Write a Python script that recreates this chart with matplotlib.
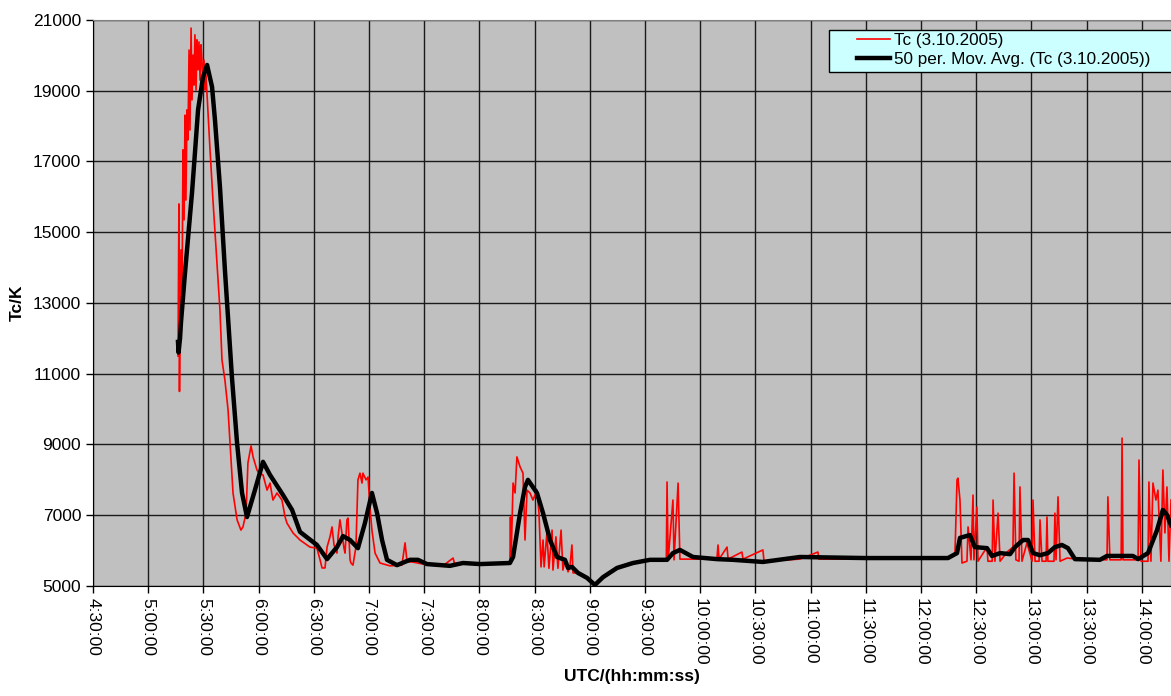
import matplotlib
matplotlib.use("Agg")
import matplotlib.pyplot as plt
from matplotlib.patches import Rectangle

plt.rcParams['font.family'] = ['Liberation Sans', 'DejaVu Sans']

# times in minutes after midnight (UTC), values in K
tc_time = [
    316.2, 316.7, 317.0, 317.3, 317.8, 318.4, 318.9, 319.5, 320.0, 320.5,
    321.1, 321.6, 322.2, 322.7, 323.3, 323.8, 324.4, 324.9, 325.4, 326.0,
    326.5, 327.1, 327.6, 328.2, 328.7, 329.2, 329.8, 330.3, 330.9, 331.4,
    332.0, 333.6, 335.2, 336.9, 339.0, 340.1, 341.7, 343.4, 344.5, 346.1,
    348.3, 350.4, 351.5, 353.2, 354.2, 355.9, 357.0, 359.1, 360.2, 362.4,
    364.6, 366.2, 367.8, 370.0, 372.7, 374.4, 375.4, 378.7, 382.5, 387.9,
    391.7, 393.4, 394.5, 396.1, 397.2, 398.8, 399.9, 401.0, 402.6, 403.2,
    404.2, 405.3, 406.4, 407.0, 408.0, 408.6, 409.7, 410.2, 411.3, 412.9,
    414.0, 415.1, 416.2, 416.7, 418.4, 419.5, 420.5, 421.6, 423.3, 426.0,
    431.4, 437.9, 439.6, 440.7, 443.4, 449.4, 460.2, 465.7, 466.7, 474.9,
    496.6, 496.9, 497.2, 498.3, 499.4, 500.4, 502.1, 503.7, 504.8, 505.9,
    507.5, 509.1, 511.3, 512.4, 513.5, 514.6, 515.2, 516.7, 517.8, 519.5,
    520.0, 521.6, 522.7, 524.4, 525.4, 526.5, 528.2, 529.2, 530.3, 530.9,
    533.6, 538.5, 542.8, 547.2, 554.8, 563.5, 572.7, 581.6, 582.0, 582.6,
    585.2, 585.8, 588.0, 589.0, 596.1, 609.1, 609.7, 610.3, 614.6, 615.2,
    622.7, 623.3, 634.1, 634.7, 654.2, 664.0, 664.5, 690.0, 734.7, 738.5,
    739.6, 740.1, 741.2, 742.3, 745.0, 745.6, 747.2, 748.3, 748.8, 750.4,
    751.0, 755.9, 756.4, 758.7, 759.2, 760.2, 761.9, 763.0, 766.8, 770.0,
    770.6, 771.6, 773.3, 773.8, 774.9, 777.6, 780.4, 780.9, 782.0, 784.2,
    784.7, 785.8, 788.0, 788.5, 789.0, 792.3, 792.8, 793.4, 794.5, 795.6,
    799.4, 804.8, 821.1, 821.6, 822.7, 828.8, 829.3, 829.8, 838.0, 838.5,
    839.6, 843.4, 843.9, 845.0, 846.1, 847.7, 848.8, 850.4, 851.5, 852.6,
    853.7, 854.8, 855.9,
]
tc_value = [
    11500, 15800, 10500, 12500, 14500, 13100, 17330, 15350, 18310, 15910,
    18460, 17610, 20150, 17890, 20770, 18740, 20010, 19160, 20580, 19020,
    20440, 19590, 20380, 19300, 20300, 19870, 19160, 19870, 19020, 19450,
    18880, 17330, 15910, 14500, 12800, 11390, 10820, 9980, 9040, 7630,
    6870, 6580, 6670, 7060, 8480, 8960, 8650, 8280, 8190, 8140,
    7710, 7910, 7430, 7630, 7430, 6950, 6780, 6500, 6300, 6100,
    6070, 5740, 5510, 5510, 6100, 6390, 6670, 6160, 5930, 6390,
    6870, 6500, 6070, 5930, 6870, 6920, 5740, 5650, 5590, 6100,
    8000, 8190, 7910, 8190, 8000, 8080, 7230, 6580, 5930, 5650,
    5570, 5590, 6220, 5680, 5680, 5620, 5570, 5790, 5590, 5650,
    5650, 6950, 5650, 7910, 7630, 8650, 8370, 8190, 6300, 7710,
    7630, 7430, 7710, 7060, 5540, 6300, 5540, 6500, 5500, 6580,
    5450, 6390, 5500, 6580, 5450, 5740, 5400, 5540, 6160, 5370,
    5370, 5230, 5030, 5250, 5510, 5650, 5740, 5760, 7940, 5740,
    7430, 5740, 7910, 5760, 5760, 5760, 6160, 5760, 6100, 5760,
    5960, 5760, 6020, 5700, 5760, 5960, 5760, 5760, 5760, 5930,
    8000, 8050, 7430, 5650, 5700, 6670, 5740, 7570, 5740, 7230,
    5700, 6100, 5700, 5700, 7430, 5700, 7060, 5700, 5960, 6100,
    8190, 5740, 5700, 7800, 5700, 6220, 5700, 7430, 5700, 5700,
    6870, 5700, 5700, 6950, 5700, 5700, 7060, 5740, 7520, 5700,
    5790, 5760, 5740, 7520, 5740, 5740, 9180, 5740, 5740, 8560,
    5700, 5700, 7940, 5700, 7910, 7430, 7710, 5700, 8280, 6500,
    7800, 5700, 7430,
]

avg_time = [
    316.2, 316.5, 317.3, 317.8, 320.0, 323.8, 325.4, 327.1, 329.8, 332.0,
    334.7, 336.3, 339.0, 341.7, 344.9, 345.5, 348.3, 351.0, 353.7, 358.0,
    362.4, 366.2, 373.3, 378.2, 382.5, 391.7, 397.2, 402.6, 405.9, 409.7,
    414.0, 417.8, 421.6, 424.4, 427.1, 429.8, 435.2, 442.3, 446.6, 451.5,
    464.0, 471.1, 480.3, 496.6, 498.3, 502.1, 504.8, 506.4, 511.3, 514.6,
    518.4, 522.2, 526.5, 528.2, 530.3, 533.6, 538.5, 542.8, 547.2, 554.8,
    563.5, 572.7, 582.0, 585.2, 589.0, 596.1, 609.1, 617.8, 634.1, 654.2,
    690.0, 734.7, 739.6, 741.2, 746.6, 749.3, 755.9, 758.6, 763.0, 768.4,
    771.1, 775.5, 778.2, 780.9, 784.7, 789.0, 792.8, 796.6, 799.9, 803.7,
    817.3, 821.1, 835.2, 838.0, 843.4, 848.3, 851.5, 853.7, 855.9,
]
avg_value = [
    11900, 11600, 12000, 12440, 13850, 16110, 17240, 18460, 19390, 19730,
    19110, 18170, 16280, 13930, 11390, 10910, 9040, 7630, 6950, 7710,
    8510, 8140, 7570, 7150, 6530, 6160, 5760, 6100, 6410, 6300,
    6070, 6780, 7630, 7060, 6300, 5740, 5590, 5740, 5740, 5620,
    5570, 5650, 5620, 5650, 5820, 7060, 7800, 8000, 7630, 7060,
    6300, 5820, 5740, 5510, 5540, 5370, 5230, 5030, 5250, 5510,
    5650, 5740, 5740, 5930, 6020, 5820, 5760, 5740, 5680, 5820,
    5790, 5790, 5930, 6360, 6440, 6100, 6070, 5850, 5930, 5900,
    6100, 6300, 6300, 5930, 5870, 5930, 6100, 6160, 6070, 5760,
    5740, 5850, 5850, 5760, 5930, 6580, 7150, 7010, 6720,
]

tick_minutes = list(range(270, 841, 30))
tick_labels = ["%d:%02d:00" % (m // 60, m % 60) for m in tick_minutes]
y_ticks = list(range(5000, 21001, 2000))

fig = plt.figure(figsize=(11.71, 6.96), dpi=100)
ax = fig.add_axes([93 / 1171, 1 - 586 / 696, 1 - 93 / 1171, (586 - 20) / 696])
ax.set_facecolor("#c0c0c0")

ax.plot(tc_time, tc_value, color="#ff0000", lw=1.2, label="Tc (3.10.2005)", zorder=3)
ax.plot(avg_time, avg_value, color="black", lw=3.2, solid_joinstyle="round",
        label="50 per. Mov. Avg. (Tc (3.10.2005))", zorder=4)

ax.set_xlim(270, 855.9)
ax.set_ylim(5000, 21000)
ax.set_xticks(tick_minutes)
ax.set_xticklabels(tick_labels, rotation=270, fontsize=12.5)
ax.set_yticks(y_ticks)
ax.set_yticklabels([str(v) for v in y_ticks], fontsize=12.5)
ax.tick_params(direction="out", length=5, width=1, color="black")
ax.tick_params(axis="x", pad=4)
ax.grid(True, color="#1a1a1a", lw=1)
ax.set_axisbelow(True)

for side in ["top", "right"]:
    ax.spines[side].set_color("#808080")
for side in ["left", "bottom"]:
    ax.spines[side].set_color("black")

ax.set_ylabel("Tc/K", fontsize=12.5, fontweight="bold", labelpad=6)
ax.set_xlabel("UTC/(hh:mm:ss)", fontsize=12.5, fontweight="bold", labelpad=2)

# legend box runs off the right edge like in the original
box = Rectangle((829 / 1171, 1 - 72 / 696), 0.4, 42 / 696, transform=fig.transFigure,
                facecolor="#ccffff", edgecolor="black", lw=1, clip_on=False, zorder=5)
ax.add_patch(box)
leg = ax.legend(loc="upper left", bbox_to_anchor=(857 / 1171, 1 - 33 / 696),
                bbox_transform=fig.transFigure, fontsize=12.3, frameon=False,
                borderpad=0, labelspacing=0.25, handlelength=1.95,
                handletextpad=0.2, borderaxespad=0)
leg.set_zorder(6)

fig.savefig("out.png", dpi=100)
